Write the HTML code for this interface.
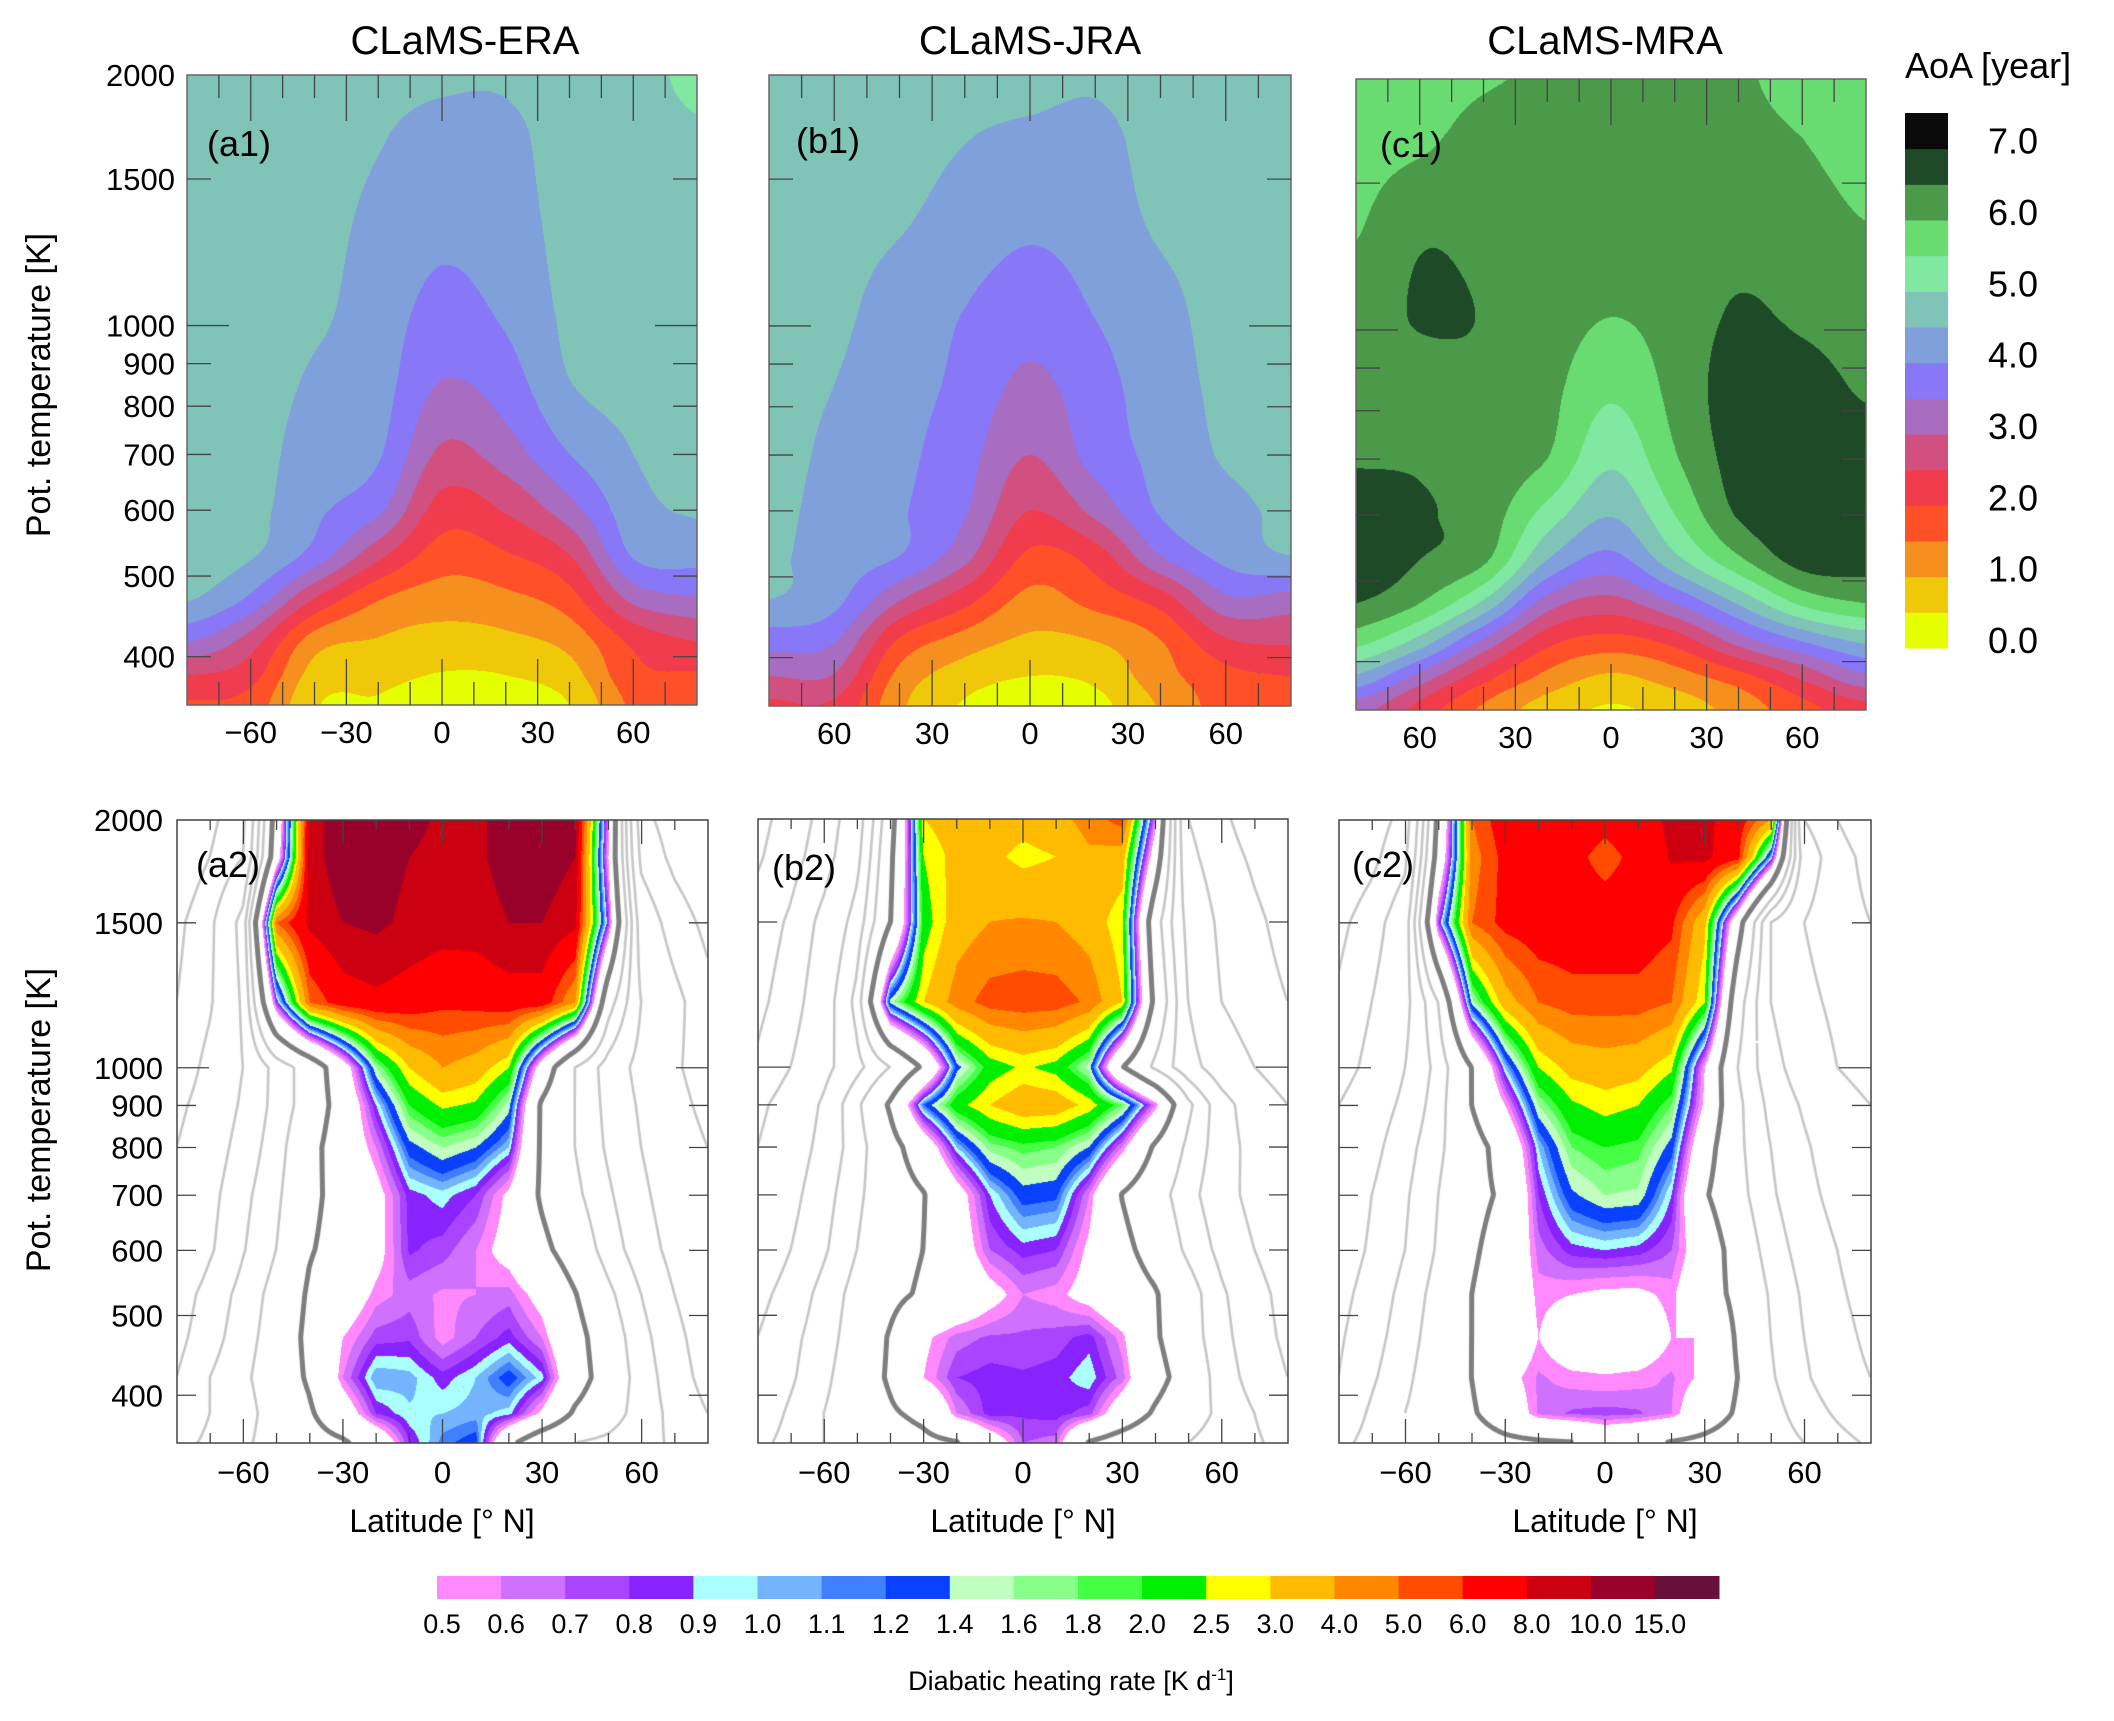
<!DOCTYPE html>
<html><head><meta charset="utf-8">
<style>
body{margin:0;background:#fff;width:2114px;height:1721px;overflow:hidden;position:relative;font-family:"Liberation Sans",sans-serif}
canvas{position:absolute}
svg{position:absolute;left:0;top:0}
text{font-family:"Liberation Sans",sans-serif;fill:#000}
</style></head>
<body>
<canvas id="c-a1" width="510" height="630" style="left:187px;top:75px"></canvas>
<canvas id="c-b1" width="522" height="631" style="left:769px;top:75px"></canvas>
<canvas id="c-c1" width="510" height="631" style="left:1356px;top:79px"></canvas>
<canvas id="c-a2" width="531" height="623" style="left:177px;top:820px"></canvas>
<canvas id="c-b2" width="530" height="624" style="left:758px;top:819px"></canvas>
<canvas id="c-c2" width="532" height="623" style="left:1339px;top:820px"></canvas>

<svg id="ov" width="2114" height="1721">
  <text x="465" y="54" font-size="40" text-anchor="middle">CLaMS-ERA</text>
  <text x="1030" y="54" font-size="40" text-anchor="middle">CLaMS-JRA</text>
  <text x="1605" y="54" font-size="40" text-anchor="middle">CLaMS-MRA</text>
  <text x="1905" y="78" font-size="36">AoA [year]</text>
  <text transform="translate(50,385) rotate(-90)" font-size="34" text-anchor="middle">Pot. temperature [K]</text>
  <text transform="translate(50,1120) rotate(-90)" font-size="34" text-anchor="middle">Pot. temperature [K]</text>
  <text x="442" y="1532" font-size="32" text-anchor="middle">Latitude [°  N]</text>
  <text x="1023" y="1532" font-size="32" text-anchor="middle">Latitude [°  N]</text>
  <text x="1605" y="1532" font-size="32" text-anchor="middle">Latitude [°  N]</text>
  <text x="1071" y="1690" font-size="27" text-anchor="middle">Diabatic heating rate [K d<tspan font-size="17" dy="-10">-1</tspan><tspan dy="10">]</tspan></text>
  <text x="207" y="156" font-size="36">(a1)</text>
  <text x="796" y="153" font-size="36">(b1)</text>
  <text x="1380" y="157" font-size="36">(c1)</text>
  <text x="196" y="877" font-size="36">(a2)</text>
  <text x="772" y="880" font-size="36">(b2)</text>
  <text x="1352" y="877" font-size="36">(c2)</text>
  <g id="ovg"></g>
</svg>

<script>
// ---------------- data ----------------
const aoaLevels=[0,0.5,1,1.5,2,2.5,3,3.5,4,4.5,5,5.5,6,6.5,7,7.5];
const aoaColors=['#e6ff00','#f0c80a','#f5901e','#ff5028','#f03c4c','#d25080','#a86cc0','#8878f8','#80a0dc','#80c4b8','#80e8a0','#68dc70','#4a9a4a','#1e4a28','#0a0a0a'];
const aoaLabelVals=[0,1,2,3,4,5,6,7];
const aoaLabels=['0.0','1.0','2.0','3.0','4.0','5.0','6.0','7.0'];
const latTop=[-80,-60,-40,-20,0,20,40,60,80];
const thetaTop=[350,380,420,470,530,600,700,850,1050,1350,1700,2000];
// columns per latitude, values from 350 K up to 2000 K
const aoaERA=[
[1.95,2.5,3.6,4.55,4.7,4.75,4.75,4.75,4.75,4.75,4.75,4.75],
[1.8,2.2,2.8,3.9,4.55,4.65,4.7,4.75,4.8,4.8,4.8,4.8],
[0.55,0.8,1.3,2.5,3.8,4.1,4.25,4.42,4.6,4.65,4.7,4.75],
[0.45,0.65,0.98,1.55,2.65,3.6,4.05,4.2,4.27,4.4,4.53,4.6],
[0.2,0.47,0.82,1.26,1.76,2.28,2.9,3.47,3.85,4.15,4.38,4.55],
[0.25,0.5,0.9,1.38,1.95,2.55,3.25,3.75,4.1,4.3,4.4,4.55],
[0.5,0.8,1.2,1.8,2.5,3.3,4.0,4.48,4.6,4.65,4.7,4.75],
[1.6,1.85,2.15,3.15,4.05,4.3,4.5,4.65,4.7,4.75,4.8,4.85],
[1.75,1.95,2.55,3.45,4.2,4.55,4.7,4.75,4.8,4.85,4.95,5.1]];
const aoaJRA=[
[2.4,3.0,3.75,4.5,4.6,4.65,4.7,4.7,4.7,4.7,4.7,4.7],
[2.4,2.95,3.55,4.15,4.25,4.3,4.38,4.5,4.6,4.65,4.7,4.72],
[1.1,1.35,1.95,3.05,4.0,4.05,4.12,4.2,4.3,4.55,4.65,4.7],
[0.45,0.75,1.3,2.2,3.17,3.55,3.69,3.87,4.0,4.31,4.52,4.6],
[0.25,0.5,0.92,1.35,1.9,2.5,3.0,3.39,3.74,4.11,4.43,4.6],
[0.35,0.62,1.02,1.7,2.25,3.15,3.7,3.82,4.03,4.25,4.4,4.55],
[1.05,1.3,1.5,2.25,3.5,4.05,4.15,4.25,4.35,4.58,4.65,4.7],
[1.7,1.85,2.45,3.4,4.15,4.35,4.55,4.62,4.68,4.7,4.7,4.7],
[1.75,2.0,2.6,3.3,4.5,4.6,4.65,4.7,4.7,4.7,4.7,4.7]];
const aoaMRA=[
[3.2,4.3,5.6,6.5,6.8,6.8,6.45,6.3,6.2,5.95,5.8,5.7],
[2.3,3.2,4.7,6.0,6.5,6.55,6.45,6.3,6.55,6.4,5.9,5.8],
[1.4,2.1,3.3,4.9,6.1,6.3,6.35,6.4,6.48,6.35,6.2,5.95],
[0.75,1.3,2.1,3.25,4.5,5.3,6.0,6.15,6.25,6.3,6.3,6.1],
[0.45,0.86,1.74,2.81,3.83,4.53,5.1,5.6,6.02,6.2,6.3,6.4],
[0.7,1.2,2.1,3.5,4.85,5.5,5.95,6.15,6.2,6.25,6.3,6.4],
[1.2,1.7,3.1,4.55,5.9,6.55,6.7,6.75,6.55,6.3,6.2,6.1],
[1.8,2.5,3.9,5.6,6.7,6.8,6.8,6.7,6.4,6.2,6.0,5.8],
[2.3,3.3,4.5,6.0,6.7,6.8,6.7,6.45,6.25,6.0,5.8,5.7]];

const heatLevels=[0.5,0.6,0.7,0.8,0.9,1.0,1.1,1.2,1.4,1.6,1.8,2.0,2.5,3.0,4.0,5.0,6.0,8.0,10.0,15.0];
const heatLabels=['0.5','0.6','0.7','0.8','0.9','1.0','1.1','1.2','1.4','1.6','1.8','2.0','2.5','3.0','4.0','5.0','6.0','8.0','10.0','15.0'];
const heatColors=['#ff88ff','#d070ff','#aa44ff','#8822ff','#aaffff','#74b4ff','#4080ff','#0a40ff','#c0ffc0','#88ff88','#44ff44','#00ee00','#ffff00','#ffbb00','#ff8800','#ff4c00','#ff0000','#cc0010','#99002a','#66103a'];
const coolLevels=[-0.5,-1,-2,-5,-10,-20];
const latBot=[-80,-70,-60,-50,-40,-30,-20,-10,0,10,20,30,40,50,60,70,80];
const thetaBot=[2000,1800,1500,1200,1000,900,800,700,600,530,470,420,380,350];
const heatERA=[
[-20,-12,-6,0.2,9,11.5,12,11,9.5,9.5,11,12,11,0.6,-8,-14,-20],
[-18,-10,-5,0.3,9,11.5,11,10,9,9.5,11,11.5,10,0.5,-6,-12,-18],
[-12,-6,-1.5,5,8.5,10,10.5,9.5,9,9,10,10,8.5,0.8,-3,-7,-12],
[-10,-5.5,-1.8,0.8,5,7,7.5,7,6.3,6.5,7,7,4,-0.3,-2,-4,-8],
[-8,-4,-2,-0.8,-0.3,0.3,1.6,3,4,3.5,2.5,0.3,-0.5,-1.3,-2.5,-4.5,-7],
[-6,-3.5,-1.8,-0.8,-0.3,0.2,0.9,2,2.6,2.4,1.5,-0.05,-0.5,-1.2,-2.2,-4,-6],
[-5,-3,-1.5,-0.7,-0.15,0.25,0.6,1.3,1.6,1.4,1.0,-0.05,-0.5,-1.1,-2,-3.5,-5],
[-4,-2.5,-1.2,-0.6,-0.1,0.15,0.4,0.85,0.95,0.8,0.45,-0.05,-0.4,-0.9,-1.7,-3,-4.5],
[-5,-2.2,-1.05,-0.5,-0.03,0.15,0.4,0.82,0.75,0.6,0.4,0.1,-0.2,-0.7,-1.4,-2.5,-4],
[-3,-1.5,-0.8,-0.35,0.05,0.3,0.55,0.65,0.58,0.6,0.65,0.4,0.02,-0.4,-1,-2,-3.5],
[-2.5,-1.3,-0.7,-0.3,0.1,0.5,0.75,0.78,0.55,0.7,0.85,0.6,0.15,-0.25,-0.8,-1.6,-3],
[-2,-1,-0.6,-0.25,0.05,0.6,1.1,1.05,0.85,1.0,1.3,0.95,0.2,-0.2,-0.7,-1.4,-2.6],
[-1.5,-1,-0.7,-0.3,-0.05,0.3,0.8,0.98,1.0,1.05,0.95,0.45,-0.05,-0.3,-0.7,-1.2,-2],
[-1.2,-0.9,-0.6,-0.3,-0.15,-0.05,0.2,0.8,1.15,1.3,0.1,-0.3,-0.5,-0.6,-0.8,-1.1,-1.6]];
const heatJRA=[
[-25,-15,-8,-3,-0.2,3.0,3.5,3.5,3.3,3.6,4.5,5.5,0.6,-5,-9,-13,-16],
[-22,-13,-7,-2.5,-0.1,2.5,3.3,3.2,2.8,3.0,3.8,3.5,0.3,-4,-8,-11,-14],
[-15,-9,-4,-1.5,-0.02,2.2,3.5,4.0,4.1,4.0,3.5,2.6,-0.3,-2.5,-6,-9,-12],
[-12,-7,-3,-0.8,1.5,3.0,4.5,5.5,5.7,5.6,4.8,3.0,-0.1,-2,-5,-8,-10],
[-9,-5,-2.5,-1.2,-0.5,0.05,1.3,2.2,2.6,2.3,1.5,0.02,-0.6,-1.5,-3,-5,-8],
[-6,-3.5,-1.8,-0.6,0.05,1.2,2.3,3.0,3.6,3.5,2.8,1.8,0.6,-0.4,-1.5,-3,-5],
[-5,-3,-1.6,-0.7,-0.15,0.25,1.0,1.7,1.9,1.8,1.4,0.6,-0.05,-0.6,-1.4,-2.6,-4],
[-4,-2.5,-1.3,-0.6,-0.2,-0.02,0.35,0.9,1.3,1.25,0.6,-0.01,-0.3,-0.8,-1.5,-2.5,-3.5],
[-3.5,-2,-1.1,-0.5,-0.15,0.0,0.3,0.7,0.85,0.8,0.45,0.1,-0.15,-0.6,-1.2,-2,-3],
[-2.5,-1.5,-0.8,-0.35,-0.1,0.05,0.2,0.4,0.6,0.55,0.4,0.2,0.03,-0.3,-0.9,-1.6,-2.5],
[-2,-1.2,-0.7,-0.3,0.03,0.45,0.65,0.72,0.72,0.75,0.85,0.55,0.05,-0.3,-0.8,-1.5,-2.3],
[-1.8,-1.1,-0.6,-0.25,0.05,0.5,0.8,0.85,0.82,0.85,0.98,0.65,0.15,-0.2,-0.7,-1.3,-2],
[-1.5,-0.9,-0.5,-0.25,-0.05,0.1,0.6,0.85,0.82,0.85,0.75,0.3,-0.05,-0.3,-0.6,-1.0,-1.6],
[-1.2,-0.8,-0.5,-0.35,-0.2,-0.1,-0.02,0.3,0.7,0.65,-0.02,-0.2,-0.35,-0.5,-0.7,-0.9,-1.3]];
const heatMRA=[
[-20,-14,-8,0.1,5,7,7,7,6.5,7,8.5,8.5,7,4,-5,-10,-15],
[-18,-12,-6,0.2,4.5,6.5,7,6.5,5.5,6.5,8.2,8.5,6.5,1.0,-3,-8,-12],
[-12,-7,-3,0.8,5,6.5,7,7,7,7,6.3,3.2,0.2,-2,-5,-8,-10],
[-9,-5,-2.5,-0.5,1.5,3.5,5,5.5,5.5,5.5,5,2.5,-0.3,-2,-4,-6,-8],
[-7,-4,-2,-0.8,0.0,1.0,2.5,3.3,3.5,3.3,2.6,0.5,-0.5,-1.5,-3,-5,-7],
[-5,-3,-1.7,-0.7,0.0,0.5,1.6,2.4,2.7,2.5,1.8,0.45,-0.4,-1.2,-2.2,-3.5,-5],
[-4,-2.5,-1.3,-0.6,-0.15,0.15,1.0,1.8,2.0,1.9,1.3,0.2,-0.4,-1.0,-1.8,-3,-4],
[-3.5,-2,-1.1,-0.5,-0.1,0.05,0.8,1.35,1.6,1.55,0.9,0.05,-0.35,-0.9,-1.6,-2.5,-3.5],
[-3,-1.8,-1.0,-0.45,-0.05,0.15,0.65,0.85,0.9,0.85,0.7,0.3,-0.2,-0.7,-1.3,-2,-3],
[-2.5,-1.5,-0.8,-0.35,0.0,0.2,0.55,0.5,0.45,0.45,0.55,0.2,-0.1,-0.55,-1.1,-1.8,-2.6],
[-2.2,-1.3,-0.7,-0.3,0.0,0.2,0.5,0.3,0.3,0.3,0.5,0.5,-0.05,-0.5,-1.0,-1.6,-2.3],
[-2,-1.1,-0.6,-0.25,0.0,0.4,0.62,0.55,0.52,0.55,0.62,0.45,0.0,-0.45,-0.9,-1.5,-2],
[-1.6,-0.9,-0.5,-0.25,-0.05,0.25,0.62,0.72,0.75,0.72,0.6,0.25,-0.05,-0.35,-0.7,-1.1,-1.6],
[-1.2,-0.8,-0.5,-0.35,-0.2,-0.1,-0.05,-0.01,0.2,0.1,-0.02,-0.1,-0.2,-0.3,-0.5,-0.8,-1.1]];

const yTickVals=[2000,1500,1000,900,800,700,600,500,400];
const yTickLabels=['2000','1500','1000','900','800','700','600','500','400'];
const xTickVals=[-60,-30,0,30,60];
const xLabelsSigned=['\u221260','\u221230','0','30','60'];
const xLabelsAbs=['60','30','0','30','60'];

// ---------------- scales & interpolation ----------------
const LNR=Math.log(2000/350);
function yOf(th,top,h){return top+h*Math.log(2000/th)/LNR;}
function xOf(lat,left,w){return left+(lat+80)/160*w;}
function fracIdx(arr,v){const n=arr.length;if(v<=arr[0])return 0;if(v>=arr[n-1])return n-1;
  for(let i=0;i<n-1;i++){if(v<=arr[i+1])return i+(v-arr[i])/(arr[i+1]-arr[i]);}return n-1;}
const lnTop=thetaTop.map(Math.log);
const lnBotNeg=thetaBot.map(t=>-Math.log(t));
function cr(p0,p1,p2,p3,t){return 0.5*((2*p1)+(-p0+p2)*t+(2*p0-5*p1+4*p2-p3)*t*t+(-p0+3*p1-3*p2+p3)*t*t*t);}
function topVal(cols,lat,th){
  const fi=fracIdx(latTop,lat),fj=fracIdx(lnTop,Math.log(th));
  const ni=cols.length,nj=cols[0].length;
  const i0=Math.min(Math.floor(fi),ni-2),j0=Math.min(Math.floor(fj),nj-2);
  const ti=fi-i0,tj=fj-j0;
  const g=(i,j)=>cols[Math.max(0,Math.min(ni-1,i))][Math.max(0,Math.min(nj-1,j))];
  const r=[];
  for(let k=-1;k<=2;k++){const j=j0+k;r.push(cr(g(i0-1,j),g(i0,j),g(i0+1,j),g(i0+2,j),ti));}
  return cr(r[0],r[1],r[2],r[3],tj);
}
function botVal(rows,lat,th){
  const fi=fracIdx(latBot,lat),fj=fracIdx(lnBotNeg,-Math.log(th));
  const nj=rows.length,ni=rows[0].length;
  const i0=Math.min(Math.floor(fi),ni-2),j0=Math.min(Math.floor(fj),nj-2);
  const ti=fi-i0,tj=fj-j0;
  const T=v=>Math.asinh(2*v);
  const a=T(rows[j0][i0]),b=T(rows[j0][i0+1]),c=T(rows[j0+1][i0]),d=T(rows[j0+1][i0+1]);
  const t=(a*(1-ti)+b*ti)*(1-tj)+(c*(1-ti)+d*ti)*tj;
  return Math.sinh(t)/2;
}
function hex(h){return [parseInt(h.slice(1,3),16),parseInt(h.slice(3,5),16),parseInt(h.slice(5,7),16)];}
const aoaRGB=aoaColors.map(hex), heatRGB=heatColors.map(hex), WHITE=[255,255,255];
function aoaColor(v){let k=0;for(let i=0;i<aoaLevels.length-1;i++){if(v>=aoaLevels[i])k=i;}return aoaRGB[Math.min(k,aoaRGB.length-1)];}
function heatColor(v){if(v<heatLevels[0])return WHITE;let k=0;for(let i=0;i<heatLevels.length;i++){if(v>=heatLevels[i])k=i;}return heatRGB[k];}

function render(id,fn,colorOf,withLines){
  const cv=document.getElementById(id),W=cv.width,H=cv.height,ctx=cv.getContext('2d');
  const img=ctx.createImageData(W,H),D=img.data;
  for(let y=0;y<H;y++){const th=2000*Math.exp(-(y+0.5)/H*LNR);
    for(let x=0;x<W;x++){const lat=-80+(x+0.5)/W*160;const c=colorOf(fn(lat,th));const p=(y*W+x)*4;
      D[p]=c[0];D[p+1]=c[1];D[p+2]=c[2];D[p+3]=255;}}
  ctx.putImageData(img,0,0);
  if(!withLines)return;
  const s=2,gx=Math.ceil((W-1)/s)+1,gy=Math.ceil((H-1)/s)+1;
  const G=new Float32Array(gx*gy),PX=new Float32Array(gx),PY=new Float32Array(gy);
  for(let i=0;i<gx;i++)PX[i]=Math.min(i*s,W-1);
  for(let j=0;j<gy;j++)PY[j]=Math.min(j*s,H-1);
  for(let j=0;j<gy;j++){const th=2000*Math.exp(-(PY[j]+0.5)/H*LNR);
    for(let i=0;i<gx;i++){G[j*gx+i]=fn(-80+(PX[i]+0.5)/W*160,th);}}
  function iso(L,lw,col){
    ctx.beginPath();
    for(let j=0;j<gy-1;j++)for(let i=0;i<gx-1;i++){
      const v0=G[j*gx+i],v1=G[j*gx+i+1],v2=G[(j+1)*gx+i+1],v3=G[(j+1)*gx+i];
      const x0=PX[i],x1=PX[i+1],y0=PY[j],y1=PY[j+1];const pts=[];
      if((v0-L)*(v1-L)<0){const t=(L-v0)/(v1-v0);pts.push([x0+t*(x1-x0),y0]);}
      if((v1-L)*(v2-L)<0){const t=(L-v1)/(v2-v1);pts.push([x1,y0+t*(y1-y0)]);}
      if((v2-L)*(v3-L)<0){const t=(L-v2)/(v3-v2);pts.push([x1-t*(x1-x0),y1]);}
      if((v3-L)*(v0-L)<0){const t=(L-v3)/(v0-v3);pts.push([x0,y1-t*(y1-y0)]);}
      if(pts.length>=2){ctx.moveTo(pts[0][0],pts[0][1]);ctx.lineTo(pts[1][0],pts[1][1]);}
      if(pts.length===4){ctx.moveTo(pts[2][0],pts[2][1]);ctx.lineTo(pts[3][0],pts[3][1]);}
    }
    ctx.lineWidth=lw;ctx.strokeStyle=col;ctx.lineCap='round';ctx.lineJoin='round';ctx.stroke();
  }
  coolLevels.forEach(L=>iso(L,2.6,'#c6c6c6'));
  iso(0,5,'#7e7e7e');
}
render('c-a1',(la,th)=>topVal(aoaERA,la,th),aoaColor,false);
render('c-b1',(la,th)=>topVal(aoaJRA,la,th),aoaColor,false);
render('c-c1',(la,th)=>topVal(aoaMRA,la,th),aoaColor,false);
render('c-a2',(la,th)=>botVal(heatERA,la,th),heatColor,true);
render('c-b2',(la,th)=>botVal(heatJRA,la,th),heatColor,true);
render('c-c2',(la,th)=>botVal(heatMRA,la,th),heatColor,true);

// ---------------- overlay: axes, ticks, colorbars ----------------
const NS='http://www.w3.org/2000/svg',ovg=document.getElementById('ovg');
function mk(tag,attrs,parent){const e=document.createElementNS(NS,tag);for(const k in attrs)e.setAttribute(k,attrs[k]);(parent||ovg).appendChild(e);return e;}
const panels=[
 {id:'a1',x:187,y:75,w:510,h:630,top:true,ylab:true,xl:xLabelsSigned},
 {id:'b1',x:769,y:75,w:522,h:631,top:true,ylab:false,xl:xLabelsAbs},
 {id:'c1',x:1356,y:79,w:510,h:631,top:true,ylab:false,xl:xLabelsAbs},
 {id:'a2',x:177,y:820,w:531,h:623,top:false,ylab:true,xl:xLabelsSigned},
 {id:'b2',x:758,y:819,w:530,h:624,top:false,ylab:false,xl:xLabelsSigned},
 {id:'c2',x:1339,y:820,w:532,h:623,top:false,ylab:false,xl:xLabelsSigned}];
panels.forEach(p=>{
  const g=mk('g',{});
  
  
  const fr=mk('rect',{x:p.x,y:p.y,width:p.w,height:p.h,fill:'none',stroke:p.top?'#666':'#444','stroke-width':1.5},g);
  
  
  const majL=p.top?46:24,minL=p.top?23:10;
  for(let lat=-70;lat<=70;lat+=10){
    const x=xOf(lat,p.x,p.w),L=(lat%30===0)?majL:minL;
    const t1=mk('line',{x1:x,y1:p.y,x2:x,y2:p.y+L,stroke:'#444','stroke-width':1.3},g);
    
    
    const t2=mk('line',{x1:x,y1:p.y+p.h,x2:x,y2:p.y+p.h-L,stroke:'#444','stroke-width':1.3},g);
    
    
  }
  yTickVals.forEach((v,i)=>{
    const y=yOf(v,p.y,p.h);if(v===2000)return;
    const L=v===1000?(p.top?42:32):(p.top?24:19);
    const a=mk('line',{x1:p.x,y1:y,x2:p.x+L,y2:y,stroke:'#444','stroke-width':1.3},g);
    
    
    const b=mk('line',{x1:p.x+p.w,y1:y,x2:p.x+p.w-L,y2:y,stroke:'#444','stroke-width':1.3},g);
    
    
  });
  if(p.ylab){yTickVals.forEach((v,i)=>{
    const t=mk('text',{x:p.x-(p.top?12:14),y:yOf(v,p.y,p.h)+11,'font-size':31,'text-anchor':'end'},g);
    t.textContent=yTickLabels[i];
    
    
  });}
  xTickVals.forEach((v,i)=>{
    const t=mk('text',{x:xOf(v,p.x,p.w),y:p.y+p.h+(p.top?38:40),'font-size':31,'text-anchor':'middle'},g);
    t.textContent=p.xl[i];
    
    
  });
});
// AoA colorbar
const cbTop=113,cbBot=648,cbX=1905,cbW=43,cbH=cbBot-cbTop;
const cbg=mk('g',{});


for(let i=0;i<aoaColors.length;i++){
  const y0=cbBot-(aoaLevels[i+1]/7.5)*cbH,y1=cbBot-(aoaLevels[i]/7.5)*cbH;
  const r=mk('rect',{x:cbX,y:y0,width:cbW,height:y1-y0+0.5,fill:aoaColors[i]},cbg);
  
  
}
aoaLabelVals.forEach((v,i)=>{
  const t=mk('text',{x:1988,y:cbBot-(v/7.5)*cbH+5,'font-size':36},cbg);
  t.textContent=aoaLabels[i];
  
  
});
// heating colorbar
const hbX=437,hbW=(1719-437)/heatColors.length,hbY=1576,hbH=23;
const hbg=mk('g',{});


heatColors.forEach((c,i)=>{
  const r=mk('rect',{x:hbX+i*hbW,y:hbY,width:hbW+0.5,height:hbH,fill:c},hbg);
  
  
  const t=mk('text',{x:hbX+i*hbW+5,y:1633,'font-size':27,'text-anchor':'middle'},hbg);
  t.textContent=heatLabels[i];
  
  
});
</script>
</body></html>
